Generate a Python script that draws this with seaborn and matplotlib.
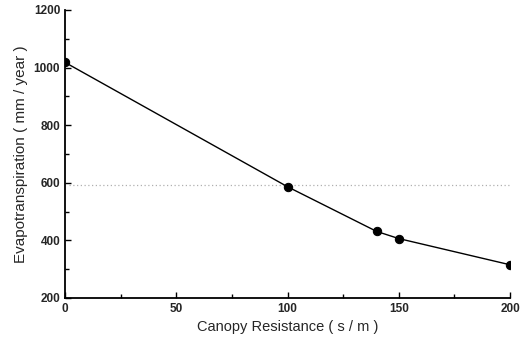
import pandas as pd
import matplotlib
matplotlib.use("Agg")
import matplotlib.pyplot as plt
import seaborn as sns
from matplotlib.ticker import MultipleLocator

sns.set_style("ticks")
plt.rcParams['font.family'] = ['Liberation Sans', 'DejaVu Sans']

# 数据
resistance = [0, 100, 140, 150, 200]
evapo = [1018, 586, 431, 406, 315]
ref_level = 593
ref_x = [2, 200]

df = pd.DataFrame({"resistance": resistance, "evapo": evapo})

fig = plt.figure(figsize=(5.2, 3.44), dpi=100)
ax = fig.add_axes([0.125, 0.134, 0.856, 0.837])

ax.plot(ref_x, [ref_level, ref_level], color='#b0b0b0', lw=0.9, ls=(0, (1, 2)))
sns.lineplot(data=df, x="resistance", y="evapo", color='black', lw=1.0,
             marker='o', markersize=6, markeredgecolor='black', ax=ax)

ax.set_xlim(0, 200)
ax.set_ylim(200, 1200)
ax.xaxis.set_major_locator(MultipleLocator(50))
ax.xaxis.set_minor_locator(MultipleLocator(25))
ax.yaxis.set_major_locator(MultipleLocator(200))
ax.yaxis.set_minor_locator(MultipleLocator(100))
ax.tick_params(which='both', direction='in', width=1.0, color='black')
ax.tick_params(which='major', length=4, labelsize=8.5)
ax.tick_params(which='minor', length=3)
for lab in ax.get_xticklabels() + ax.get_yticklabels():
    lab.set_fontweight('bold')

sns.despine(ax=ax)
for s in ['left', 'bottom']:
    ax.spines[s].set_linewidth(1.3)
    ax.spines[s].set_color('black')

ax.set_xlabel("Canopy Resistance ( s / m )", fontsize=10.5)
ax.set_ylabel("Evapotranspiration ( mm / year )", fontsize=11)

fig.savefig("out.png", dpi=100)
